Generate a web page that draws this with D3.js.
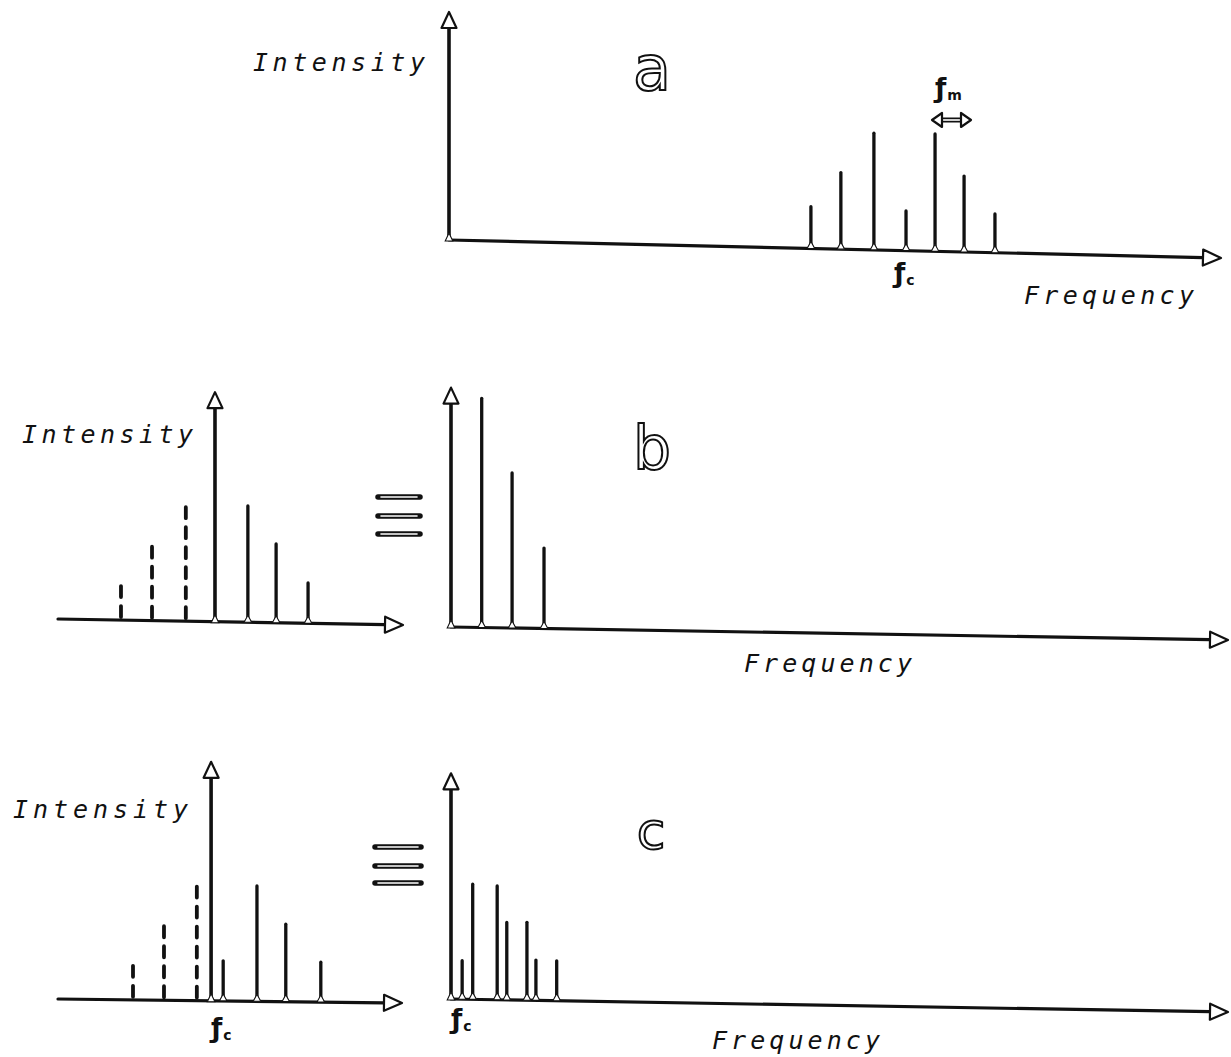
<!DOCTYPE html>
<html>
<head>
<meta charset="utf-8">
<script src="https://cdn.jsdelivr.net/npm/d3@7"></script>
<style>
html,body{margin:0;padding:0;background:#fff;}
svg{display:block;}
</style>
</head>
<body>
<svg id="chart" width="1231" height="1057"></svg>
<script>
// ---------- DATA (frequency in units of f_m, intensity in arbitrary units) ----------
const aFreq = [11.72, 12.69, 13.76, 14.80, 15.74, 16.68, 17.68];
const aInt  = [18.3, 33.6, 51.2, 17.4, 51.5, 33.3, 17.0];

const bLeftFreq   = [-3.03, -2.03, -0.94, 1.06, 1.97, 3.0];
const bLeftInt    = [15.8, 33.2, 50.2, 51.0, 34.6, 17.7];
const bLeftFolded = [true, true, true, false, false, false];

const bRightFreq = [0.99, 1.97, 3.0];
const bRightInt  = [100.5, 68, 35.3];

const cLeftFreq   = [-2.52, -1.52, -0.46, 0.39, 1.48, 2.41, 3.54];
const cLeftInt    = [17.2, 34.4, 51.6, 17.6, 50.6, 34.0, 17.5];
const cLeftFolded = [true, true, true, false, false, false, false];

const cRightFreq = [0.36, 0.70, 1.49, 1.80, 2.45, 2.74, 3.41];
const cRightInt  = [16.9, 50.5, 49.9, 34.0, 34.2, 17.7, 17.5];

const axisLabelY = "Intensity";
const axisLabelX = "Frequency";
const panelLetters = ["a", "b", "c"];

// ---------- LAYOUT ----------
const svg = d3.select("#chart");
const INK = "#111";
const hScale = d3.scaleLinear().domain([0, 100]).range([0, 228]);

const panels = [
  {key:"a", dom:[0, 25.0], xr:[449, 1221], yr:[240, 258], axisMax:100, freq:aFreq, val:aInt, folded:null, origin:0},
  {key:"bL", dom:[-5.06, 6.06], xr:[58, 403], yr:[619, 625], axisMax:100.7, freq:bLeftFreq, val:bLeftInt, folded:bLeftFolded, origin:0},
  {key:"bR", dom:[0, 25.06], xr:[451, 1228], yr:[627, 640], axisMax:105, freq:bRightFreq, val:bRightInt, folded:null, origin:0},
  {key:"cL", dom:[-4.94, 6.16], xr:[58, 402], yr:[999, 1003], axisMax:104.8, freq:cLeftFreq, val:cLeftInt, folded:cLeftFolded, origin:0},
  {key:"cR", dom:[0, 25.07], xr:[451, 1228], yr:[999, 1012], axisMax:99, freq:cRightFreq, val:cRightInt, folded:null, origin:0}
];

function hollowTri(g, pts) {
  g.append("path")
    .attr("d", "M" + pts.map(p => p.join(",")).join("L") + "Z")
    .attr("fill", "#fff").attr("stroke", INK).attr("stroke-width", 2.2)
    .attr("stroke-linejoin", "round");
}

panels.forEach(p => {
  const x = d3.scaleLinear().domain(p.dom).range(p.xr);
  const base = d3.scaleLinear().domain(p.dom).range(p.yr);
  const g = svg.append("g").attr("class", "panel-" + p.key);

  // x axis (baseline) with hollow arrow
  const x0 = p.xr[0], y0 = p.yr[0], x1 = p.xr[1], y1 = p.yr[1];
  const ang = Math.atan2(y1 - y0, x1 - x0);
  const L = 18, W = 8;
  const bx = x1 - L * Math.cos(ang), by = y1 - L * Math.sin(ang);
  g.append("line").attr("x1", x0).attr("y1", y0).attr("x2", bx).attr("y2", by)
    .attr("stroke", INK).attr("stroke-width", 3.2).attr("stroke-linecap", "round");

  // spikes
  p.freq.forEach((f, i) => {
    const sx = x(f), sb = base(f), top = sb - hScale(p.val[i]);
    const dashed = p.folded && p.folded[i];
    g.append("line").attr("x1", sx).attr("x2", sx).attr("y1", sb - 3).attr("y2", top)
      .attr("stroke", INK).attr("stroke-width", dashed ? 3.8 : 3.3)
      .attr("stroke-linecap", "round")
      .attr("stroke-dasharray", dashed ? "11,9" : null);
    if (!dashed) {
      g.append("path")
        .attr("d", `M${sx - 3.8},${sb} L${sx},${sb - 7} L${sx + 3.8},${sb} Z`)
        .attr("fill", "#fff").attr("stroke", INK).attr("stroke-width", 1.1);
    }
  });

  // y axis at frequency 0 with hollow arrow
  const ax = x(p.origin), ab = base(p.origin), tip = ab - hScale(p.axisMax);
  g.append("line").attr("x1", ax).attr("x2", ax).attr("y1", ab).attr("y2", tip + 14)
    .attr("stroke", INK).attr("stroke-width", 3.6);
  hollowTri(g, [[ax, tip], [ax + 7.5, tip + 16], [ax - 7.5, tip + 16]]);
  g.append("path")
    .attr("d", `M${ax - 3.8},${ab + 1} L${ax},${ab - 7} L${ax + 3.8},${ab + 1} Z`)
    .attr("fill", "#fff").attr("stroke", INK).attr("stroke-width", 1.1);

  // x arrow head
  const nx = -Math.sin(ang), ny = Math.cos(ang);
  hollowTri(g, [[x1, y1], [bx + nx * W, by + ny * W], [bx - nx * W, by - ny * W]]);
});

// ---------- TEXT ----------
const labelFont = "'DejaVu Sans Mono', monospace";
function axisText(txt, xPos, yPos, len) {
  svg.append("text").attr("x", xPos).attr("y", yPos)
    .attr("font-family", labelFont).attr("font-style", "italic")
    .attr("font-size", 25).attr("fill", INK)
    .attr("textLength", len).attr("lengthAdjust", "spacing")
    .text(txt);
}
axisText(axisLabelY, 253, 71, 172);
axisText(axisLabelY, 22, 443, 171);
axisText(axisLabelY, 13, 818, 175);
axisText(axisLabelX, 1024, 304, 170);
axisText(axisLabelX, 744, 672, 168);
axisText(axisLabelX, 712, 1049, 168);

// panel letters (outlined)
const letterPos = [[652, 90, 62], [652, 469, 60], [651, 849, 52]];
panelLetters.forEach((l, i) => {
  svg.append("text").attr("x", letterPos[i][0]).attr("y", letterPos[i][1])
    .attr("text-anchor", "middle")
    .attr("font-family", "'DejaVu Sans', sans-serif").attr("font-size", letterPos[i][2])
    .attr("fill", "#fff").attr("stroke", INK).attr("stroke-width", 2)
    .text(l);
});

// f labels
function fLabel(xPos, yPos, sub) {
  const t = svg.append("text").attr("x", xPos).attr("y", yPos)
    .attr("font-family", "'DejaVu Sans', sans-serif").attr("font-weight", "bold")
    .attr("font-size", 26).attr("fill", INK);
  t.append("tspan").text("ƒ");
  t.append("tspan").attr("font-size", 14).attr("dx", 1).attr("dy", 3).text(sub);
}
fLabel(894, 282, "c");
fLabel(935, 97, "m");
fLabel(211, 1037, "c");
fLabel(451, 1028, "c");

// f_m double arrow
(function () {
  const g = svg.append("g");
  const xa = 932, xb = 971, yy = 120;
  g.append("line").attr("x1", xa + 8).attr("x2", xb - 8).attr("y1", yy).attr("y2", yy)
    .attr("stroke", INK).attr("stroke-width", 5);
  g.append("line").attr("x1", xa + 8).attr("x2", xb - 8).attr("y1", yy).attr("y2", yy)
    .attr("stroke", "#fff").attr("stroke-width", 1.6);
  hollowTri(g, [[xa, yy], [xa + 10, yy - 7], [xa + 10, yy + 7]]);
  hollowTri(g, [[xb, yy], [xb - 10, yy - 7], [xb - 10, yy + 7]]);
})();

// "equivalent" signs
function equiv(xa, xb, ys) {
  ys.forEach(yy => {
    svg.append("line").attr("x1", xa).attr("x2", xb).attr("y1", yy).attr("y2", yy)
      .attr("stroke", INK).attr("stroke-width", 5.5).attr("stroke-linecap", "round");
    svg.append("line").attr("x1", xa + 3).attr("x2", xb - 3).attr("y1", yy).attr("y2", yy)
      .attr("stroke", "#fff").attr("stroke-width", 1.6).attr("stroke-linecap", "round");
  });
}
equiv(378, 420, [497, 516, 534]);
equiv(375, 421, [847, 866, 883]);
</script>
</body>
</html>
